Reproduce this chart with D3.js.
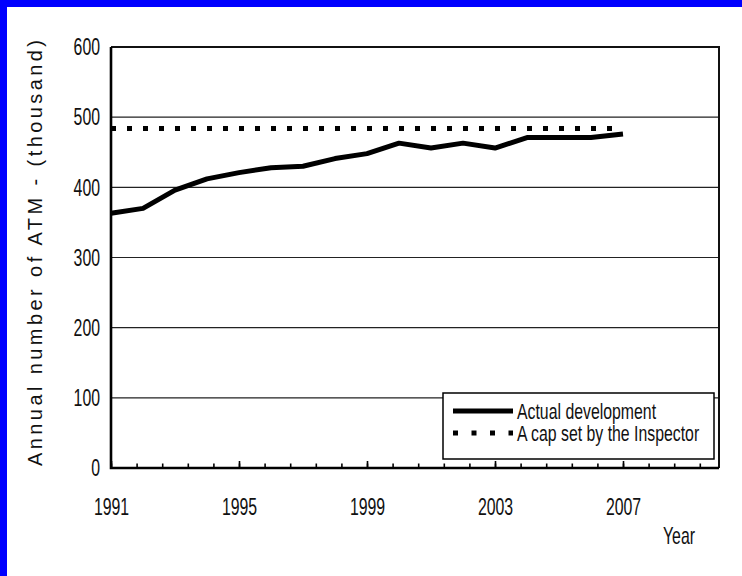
<!DOCTYPE html>
<html>
<head>
<meta charset="utf-8">
<script src="https://cdn.jsdelivr.net/npm/d3@7"></script>
<style>
  body { margin: 0; background: #fff; }
  text { font-family: "Liberation Sans", Arial, sans-serif; fill: #111; }
</style>
</head>
<body>
<div id="chart"></div>
<script>
var years = [1991, 1992, 1993, 1994, 1995, 1996, 1997, 1998, 1999,
             2000, 2001, 2002, 2003, 2004, 2005, 2006, 2007];
var actual = [363, 370, 396, 412, 421, 428, 430, 441, 448,
              463, 456, 463, 456, 471, 471, 471, 476];
var cap = [484, 484, 484, 484, 484, 484, 484, 484, 484,
           484, 484, 484, 484, 484, 484, 484, 484];
var yTicks = [0, 100, 200, 300, 400, 500, 600];
var xLabels = [1991, 1995, 1999, 2003, 2007];
var seriesNames = ['Actual development', 'A cap set by the Inspector'];

var width = 742, height = 576;
var squeeze = 0.66;

var svg = d3.select('#chart')
  .append('svg')
  .attr('width', width)
  .attr('height', height);

// blue frame strips
svg.append('rect').attr('x', 0).attr('y', 0).attr('width', width).attr('height', 7).attr('fill', '#0000ff');
svg.append('rect').attr('x', 0).attr('y', 0).attr('width', 7).attr('height', height).attr('fill', '#0000ff');

var x = d3.scaleLinear().domain([1991, 2010]).range([111, 719]);
var y = d3.scaleLinear().domain([0, 600]).range([468, 47]);

// gridlines
svg.append('g')
  .selectAll('line')
  .data(yTicks.slice(1, -1))
  .enter().append('line')
    .attr('x1', x.range()[0]).attr('x2', x.range()[1])
    .attr('y1', function(d) { return y(d); })
    .attr('y2', function(d) { return y(d); })
    .attr('stroke', '#222')
    .attr('stroke-width', 1.1);

// top and right border of plot area
svg.append('path')
  .attr('d', 'M' + x.range()[0] + ',' + y(600) + 'H' + x.range()[1] + 'V' + y(0))
  .attr('fill', 'none')
  .attr('stroke', '#111')
  .attr('stroke-width', 2);

// x minor ticks every 0.8 year
var minor = d3.range(0, 24).map(function(i) { return 1991 + i * 0.8; });
var xMinor = svg.append('g')
  .attr('transform', 'translate(0,' + y(0) + ')')
  .call(d3.axisBottom(x).tickValues(minor).tickSize(-4.5).tickFormat(''));
xMinor.select('.domain').remove();

var xMajor = svg.append('g')
  .attr('transform', 'translate(0,' + y(0) + ')')
  .call(d3.axisBottom(x).tickValues(xLabels).tickSize(-7).tickPadding(30).tickFormat(d3.format('d')));
xMajor.select('.domain').remove();
xMajor.selectAll('text')
  .attr('font-size', 24)
  .attr('transform', 'scale(' + squeeze + ',1)');
svg.selectAll('.tick line').attr('stroke', '#000').attr('stroke-width', 1.6);

// y axis labels
var yAxis = svg.append('g')
  .attr('transform', 'translate(' + x.range()[0] + ',0)')
  .call(d3.axisLeft(y).tickValues(yTicks).tickSize(0).tickPadding(11 / squeeze));
yAxis.select('.domain').remove();
yAxis.selectAll('text')
  .attr('font-size', 24)
  .attr('transform', 'scale(' + squeeze + ',1)');

// axis lines
svg.append('path')
  .attr('d', 'M' + x.range()[0] + ',' + y(600) + 'V' + y(0) + 'H' + x.range()[1])
  .attr('fill', 'none')
  .attr('stroke', '#000')
  .attr('stroke-width', 2.6);

// series
var line = d3.line()
  .x(function(d, i) { return x(years[i]); })
  .y(function(d) { return y(d); });

svg.append('path')
  .datum(cap)
  .attr('d', line)
  .attr('fill', 'none')
  .attr('stroke', '#000')
  .attr('stroke-width', 5)
  .attr('stroke-dasharray', '5,11');

svg.append('path')
  .datum(actual)
  .attr('d', line)
  .attr('fill', 'none')
  .attr('stroke', '#000')
  .attr('stroke-width', 5)
  .attr('stroke-linejoin', 'round');

// axis titles
svg.append('text')
  .attr('transform', 'translate(42,466) rotate(-90)')
  .attr('font-size', 20)
  .attr('textLength', 426)
  .attr('lengthAdjust', 'spacing')
  .text('Annual number of ATM - (thousand)');

svg.append('text')
  .attr('transform', 'translate(663,544) scale(' + squeeze + ',1)')
  .attr('font-size', 24)
  .text('Year');

// legend
var legend = svg.append('g').attr('transform', 'translate(443,393)');
legend.append('rect')
  .attr('width', 271).attr('height', 66)
  .attr('fill', '#fff')
  .attr('stroke', '#000')
  .attr('stroke-width', 1.5);

var item = legend.selectAll('g.item')
  .data(seriesNames)
  .enter().append('g')
    .attr('class', 'item')
    .attr('transform', function(d, i) { return 'translate(0,' + (18 + i * 22) + ')'; });

item.append('line')
  .attr('x1', 10).attr('x2', 70)
  .attr('stroke', '#000')
  .attr('stroke-width', 5)
  .attr('stroke-dasharray', function(d, i) { return i ? '5,13.5' : null; });

item.append('text')
  .attr('transform', 'translate(74,8) scale(0.72,1)')
  .attr('font-size', 22)
  .text(function(d) { return d; });
</script>
</body>
</html>
